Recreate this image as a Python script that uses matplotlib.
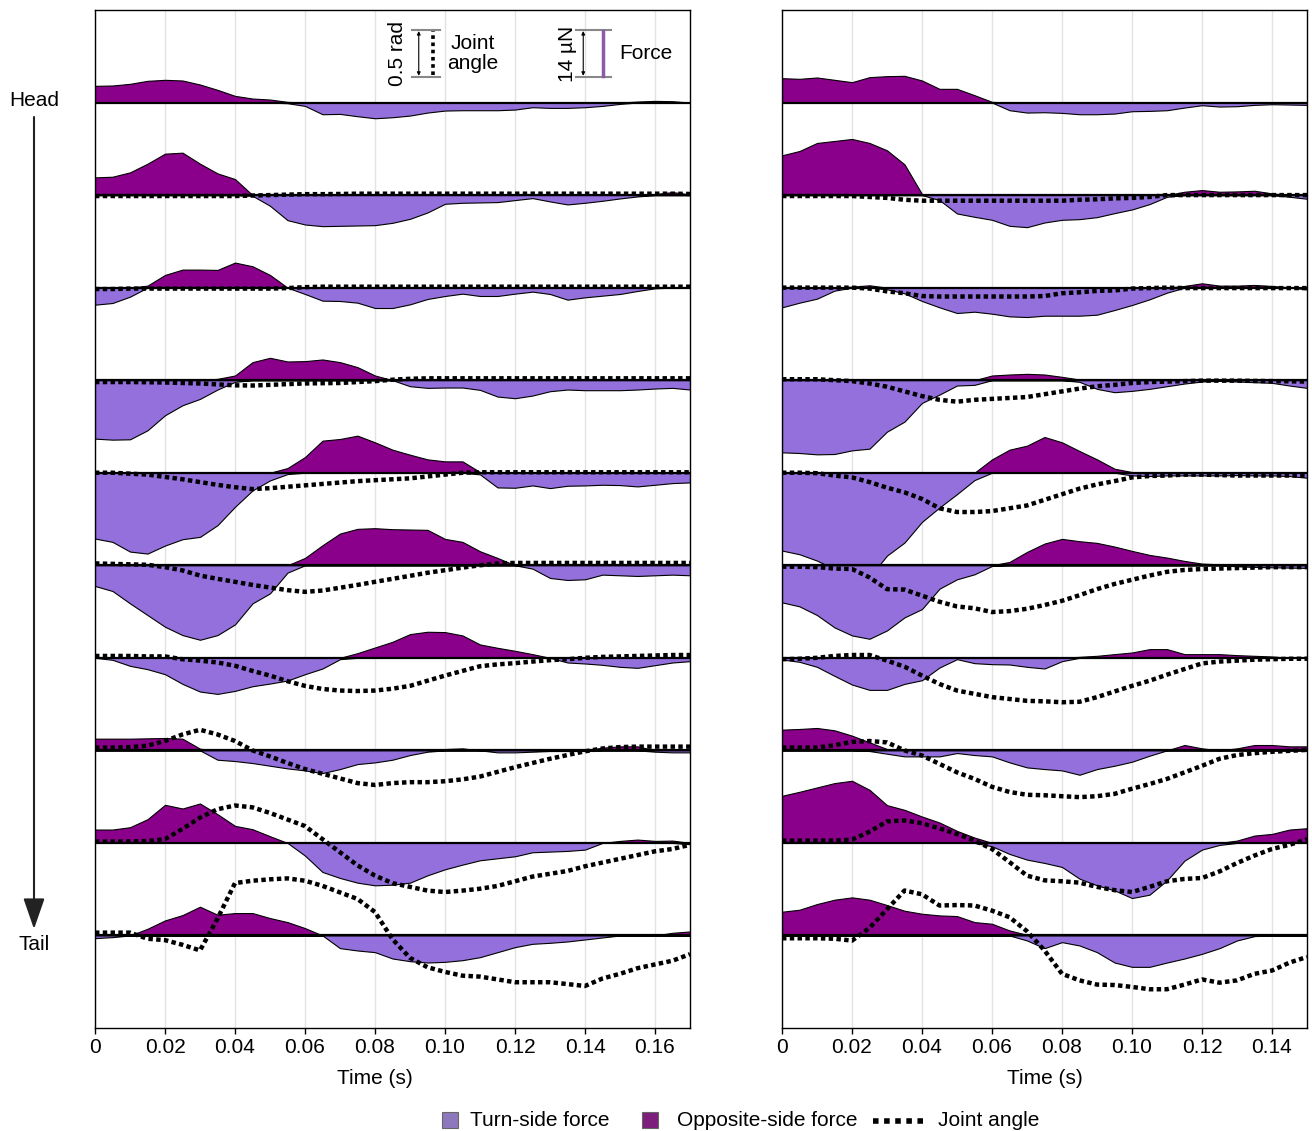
import numpy as np
import matplotlib.pyplot as plt
from matplotlib.patches import Rectangle, FancyArrowPatch
from matplotlib.lines import Line2D

plt.rcParams['font.family'] = ['Liberation Sans', 'DejaVu Sans']

# samples every 5 ms
left_time = np.arange(35) * 0.005
right_time = np.arange(31) * 0.005

left_ticks = [0, 0.02, 0.04, 0.06, 0.08, 0.10, 0.12, 0.14, 0.16]
left_ticklabels = ['0', '0.02', '0.04', '0.06', '0.08', '0.10', '0.12', '0.14', '0.16']
right_ticks = [0, 0.02, 0.04, 0.06, 0.08, 0.10, 0.12, 0.14]
right_ticklabels = ['0', '0.02', '0.04', '0.06', '0.08', '0.10', '0.12', '0.14']

# forces in uN (opposite side drawn up, turn side drawn down), joint angle in rad
# rows go from head (0) to tail (9)
left_opposite = [
    [5.0, 5.1, 5.6, 6.5, 6.8, 6.6, 5.4, 3.8, 2.0, 1.2, 0.9, 0.2, 0, 0, 0, 0, 0, 0, 0, 0, 0, 0, 0, 0, 0, 0, 0, 0, 0, 0, 0, 0.3, 0.5, 0.4, 0],
    [5.3, 5.5, 6.8, 9.4, 12.4, 12.7, 9.4, 6.5, 4.8, 0, 0, 0, 0, 0, 0, 0, 0, 0, 0, 0, 0, 0, 0, 0, 0, 0, 0, 0, 0, 0, 0, 0, 0.3, 0.9, 0.2],
    [0, 0, 0, 0.6, 3.8, 5.4, 5.4, 5.3, 7.5, 6.4, 3.8, 0, 0, 0, 0, 0, 0, 0, 0, 0, 0, 0, 0, 0, 0, 0, 0, 0, 0, 0, 0, 0, 0, 0, 0],
    [0, 0, 0, 0, 0, 0, 0, 0.4, 1.4, 5.4, 6.7, 5.6, 5.7, 6.2, 5.4, 3.9, 1.4, 0, 0, 0, 0, 0, 0, 0, 0, 0, 0, 0, 0, 0, 0, 0, 0, 0, 0],
    [0, 0, 0, 0, 0, 0, 0, 0, 0, 0, 0, 1.4, 4.7, 9.6, 10.1, 11.1, 9.1, 6.9, 5.4, 4.0, 3.4, 3.4, 0.2, 0, 0, 0, 0, 0, 0, 0, 0, 0, 0, 0, 0],
    [0, 0, 0, 0, 0, 0, 0, 0, 0, 0, 0, 0, 2.2, 6.0, 9.5, 10.9, 11.1, 10.8, 10.7, 10.6, 7.9, 7.0, 4.2, 2.2, 0, 0, 0, 0, 0, 0, 0, 0, 0, 0, 0],
    [0, 0, 0, 0, 0, 0, 0, 0, 0, 0, 0, 0, 0, 0, 0, 1.4, 3.1, 4.8, 7.1, 7.8, 7.7, 6.7, 4.0, 3.0, 2.1, 1.1, 0, 0, 0, 0, 0, 0, 0, 0, 0],
    [3.5, 3.5, 3.5, 3.6, 3.7, 3.5, 0.5, 0, 0, 0, 0, 0, 0, 0, 0, 0, 0, 0, 0, 0, 0.4, 0.6, 0, 0, 0, 0, 0, 0, 0, 0.8, 1.2, 1.2, 0, 0, 0],
    [4.0, 4.0, 4.7, 7.1, 11.4, 10.3, 11.8, 8.6, 5.1, 4.1, 2.0, 0, 0, 0, 0, 0, 0, 0, 0, 0, 0, 0, 0, 0, 0, 0, 0, 0, 0, 0, 0.6, 1.0, 0.6, 0.7, 0],
    [0, 0, 0, 2.0, 4.5, 6.1, 8.6, 6.2, 6.7, 6.7, 5.2, 4.0, 2.2, 0, 0, 0, 0, 0, 0, 0, 0, 0, 0, 0, 0, 0, 0, 0, 0, 0, 0, 0, 0, 0.8, 1.2],
]
left_turn = [
    [0, 0, 0, 0, 0, 0, 0, 0, 0, 0, 0, 0.2, 1.0, 3.5, 3.4, 4.1, 4.7, 4.4, 3.9, 3.0, 2.4, 2.3, 2.3, 2.3, 2.1, 1.4, 1.6, 1.6, 1.4, 1.0, 0.4, 0, 0, 0, 0],
    [0, 0, 0, 0, 0, 0, 0, 0, 0, 0.2, 3.2, 7.5, 8.8, 9.3, 9.2, 9.1, 9.0, 8.3, 7.1, 5.2, 2.6, 2.3, 2.2, 2.1, 1.5, 0.9, 1.9, 2.8, 2.3, 1.7, 1.0, 0.4, 0, 0, 0],
    [5.1, 4.6, 2.7, 0, 0, 0, 0, 0, 0, 0, 0, 0, 1.9, 3.9, 4.0, 4.5, 6.1, 6.1, 5.0, 3.4, 2.5, 1.8, 2.5, 2.5, 1.8, 1.2, 1.9, 3.6, 2.9, 2.4, 1.9, 1.0, 0.2, 0, 0],
    [17.5, 17.8, 17.7, 15.0, 10.5, 7.5, 5.6, 2.8, 0.5, 0, 0, 0, 0, 0, 0, 0, 0, 0, 1.8, 2.3, 2.2, 2.2, 2.9, 4.9, 5.4, 4.6, 3.3, 2.8, 3.0, 3.0, 3.0, 2.8, 2.5, 2.3, 2.8],
    [19.7, 20.7, 23.6, 24.2, 21.8, 19.9, 19.2, 15.7, 10.2, 5.3, 2.3, 0.4, 0, 0, 0, 0, 0, 0, 0, 0, 0, 0, 0.5, 4.4, 4.5, 3.8, 4.6, 3.9, 3.8, 3.6, 3.7, 4.1, 3.6, 3.1, 2.9],
    [6.2, 7.7, 11.4, 14.9, 18.4, 20.9, 22.3, 20.9, 17.7, 11.4, 8.4, 2.2, 0, 0, 0, 0, 0, 0, 0, 0, 0, 0, 0, 0, 0, 1.0, 3.8, 4.4, 4.2, 2.8, 3.0, 3.2, 3.0, 2.8, 3.0],
    [0, 0.6, 2.4, 3.4, 4.9, 7.8, 10.1, 10.8, 9.9, 8.5, 7.7, 6.8, 4.9, 3.2, 0.4, 0, 0, 0, 0, 0, 0, 0, 0, 0, 0, 0, 0, 1.4, 1.7, 2.1, 2.7, 3.0, 2.2, 1.4, 1.0],
    [0, 0, 0, 0, 0, 0, 0, 2.8, 3.2, 3.8, 4.6, 5.4, 6.0, 6.8, 5.6, 4.1, 3.6, 2.8, 1.4, 0.4, 0, 0, 0, 0.6, 0.6, 0.4, 0.2, 0.2, 0.2, 0, 0, 0, 0.4, 0.6, 0.6],
    [0, 0, 0, 0, 0, 0, 0, 0, 0, 0, 0, 0, 3.8, 8.7, 10.5, 11.9, 12.7, 12.5, 11.9, 9.7, 7.9, 6.5, 5.2, 4.6, 4.0, 2.8, 2.6, 2.4, 2.0, 0, 0, 0, 0, 0, 0.4],
    [0.8, 0.5, 0, 0, 0, 0, 0, 0, 0, 0, 0, 0, 0, 0, 3.8, 4.5, 5.0, 6.9, 7.7, 8.1, 7.9, 7.4, 6.5, 5.0, 3.5, 2.5, 2.2, 1.8, 1.2, 0.6, 0, 0, 0, 0, 0],
]
left_angle = [
    None,
    [-0.01, -0.01, -0.01, -0.01, -0.01, -0.01, -0.01, -0.01, -0.01, -0.005, 0.0, 0.005, 0.01, 0.01, 0.012, 0.015, 0.015, 0.015, 0.015, 0.015, 0.015, 0.015, 0.015, 0.015, 0.015, 0.015, 0.015, 0.015, 0.015, 0.015, 0.015, 0.015, 0.015, 0.015, 0.012],
    [-0.015, -0.015, -0.01, -0.01, -0.01, -0.01, -0.01, -0.01, -0.01, -0.01, -0.01, -0.005, 0.005, 0.01, 0.01, 0.01, 0.01, 0.01, 0.01, 0.01, 0.01, 0.01, 0.01, 0.01, 0.01, 0.01, 0.01, 0.01, 0.01, 0.01, 0.01, 0.01, 0.01, 0.01, 0.01],
    [-0.02, -0.02, -0.02, -0.022, -0.025, -0.03, -0.035, -0.045, -0.055, -0.057, -0.05, -0.042, -0.035, -0.032, -0.03, -0.02, -0.01, 0.005, 0.015, 0.02, 0.02, 0.02, 0.02, 0.02, 0.02, 0.02, 0.02, 0.02, 0.02, 0.02, 0.02, 0.02, 0.02, 0.02, 0.02],
    [0.0, 0.0, -0.01, -0.02, -0.045, -0.07, -0.1, -0.13, -0.155, -0.175, -0.165, -0.15, -0.135, -0.12, -0.105, -0.09, -0.08, -0.07, -0.06, -0.04, -0.02, 0.0, 0.005, 0.005, 0.005, 0.005, 0.005, 0.005, 0.005, 0.005, 0.005, 0.005, 0.005, 0.005, 0.005],
    [0.02, 0.015, 0.01, 0.005, -0.02, -0.055, -0.11, -0.145, -0.177, -0.21, -0.238, -0.266, -0.284, -0.27, -0.24, -0.21, -0.177, -0.145, -0.113, -0.08, -0.053, -0.025, 0.0, 0.02, 0.025, 0.025, 0.025, 0.025, 0.025, 0.025, 0.025, 0.025, 0.025, 0.025, 0.025],
    [0.02, 0.02, 0.02, 0.015, 0.015, -0.015, -0.03, -0.05, -0.085, -0.14, -0.19, -0.25, -0.3, -0.333, -0.35, -0.355, -0.35, -0.33, -0.3, -0.245, -0.19, -0.14, -0.09, -0.07, -0.057, -0.04, -0.025, -0.015, 0.0, 0.01, 0.015, 0.02, 0.025, 0.03, 0.03],
    [0.03, 0.03, 0.035, 0.05, 0.1, 0.17, 0.22, 0.17, 0.1, 0.0, -0.065, -0.135, -0.2, -0.25, -0.3, -0.35, -0.37, -0.35, -0.34, -0.34, -0.33, -0.31, -0.28, -0.23, -0.18, -0.135, -0.09, -0.05, -0.01, 0.02, 0.035, 0.04, 0.04, 0.04, 0.04],
    [0.015, 0.015, 0.015, 0.02, 0.04, 0.15, 0.27, 0.36, 0.4, 0.38, 0.32, 0.25, 0.18, 0.04, -0.1, -0.24, -0.35, -0.43, -0.47, -0.51, -0.525, -0.51, -0.49, -0.46, -0.41, -0.36, -0.33, -0.3, -0.25, -0.21, -0.17, -0.13, -0.09, -0.065, -0.02],
    [0.03, 0.03, 0.03, -0.035, -0.05, -0.1, -0.16, 0.18, 0.56, 0.585, 0.6, 0.61, 0.585, 0.53, 0.46, 0.39, 0.25, -0.04, -0.24, -0.34, -0.39, -0.43, -0.44, -0.47, -0.5, -0.5, -0.5, -0.52, -0.54, -0.46, -0.41, -0.35, -0.31, -0.27, -0.2],
]

right_opposite = [
    [7.3, 7.1, 7.5, 6.8, 6.1, 7.6, 7.9, 8.0, 6.6, 4.1, 4.1, 2.2, 0.2, 0, 0, 0, 0, 0, 0, 0, 0, 0, 0, 0, 0, 0, 0, 0, 0, 0, 0],
    [11.9, 13.2, 15.6, 16.2, 16.8, 15.6, 13.4, 9.2, 0.3, 0, 0, 0, 0, 0, 0, 0, 0, 0, 0, 0, 0, 0, 0, 1.0, 1.5, 1.0, 1.1, 1.3, 0.5, 0, 0],
    [0, 0, 0, 0, 0.3, 0.7, 0, 0, 0, 0, 0, 0, 0, 0, 0, 0, 0, 0, 0, 0, 0, 0, 0, 0.5, 1.3, 0.6, 0.6, 0.8, 0.5, 0.1, 0],
    [0, 0, 0, 0, 0, 0, 0, 0, 0, 0, 0, 0, 1.4, 1.7, 1.9, 1.7, 1.0, 0.2, 0, 0, 0, 0, 0, 0, 0, 0, 0, 0, 0, 0, 0],
    [0, 0, 0, 0, 0, 0, 0, 0, 0, 0, 0, 0, 4.0, 6.9, 8.1, 10.7, 9.1, 6.5, 4.0, 1.2, 0.2, 0, 0, 0, 0, 0, 0, 0, 0, 0, 0],
    [0, 0, 0, 0, 0, 0, 0, 0, 0, 0, 0, 0, 0, 1.0, 4.0, 6.5, 7.9, 7.2, 6.7, 5.6, 4.3, 3.1, 2.3, 1.3, 0.5, 0.3, 0, 0, 0, 0, 0],
    [0, 0, 0, 0, 0, 0, 0, 0, 0, 0, 0, 0, 0, 0, 0, 0, 0, 0.3, 0.6, 1.1, 1.6, 2.6, 2.6, 1.1, 1.1, 1.1, 0.8, 0.6, 0.4, 0, 0],
    [6.2, 6.4, 6.7, 6.0, 4.4, 2.4, 0.4, 0, 0, 0, 0, 0, 0, 0, 0, 0, 0, 0, 0, 0, 0, 0, 0, 1.6, 0.6, 0, 0.6, 1.6, 1.6, 1.2, 1.2],
    [14.1, 15.3, 16.6, 17.9, 18.6, 15.9, 11.3, 9.9, 7.9, 6.1, 3.6, 1.6, 0, 0, 0, 0, 0, 0, 0, 0, 0, 0, 0, 0, 0, 0, 0.7, 2.2, 2.7, 4.0, 4.4],
    [7.1, 7.7, 9.4, 10.7, 11.4, 10.7, 9.1, 7.4, 6.5, 6.0, 5.8, 4.0, 3.5, 1.5, 0.2, 0, 0, 0, 0, 0, 0, 0, 0, 0, 0, 0, 0, 0.4, 0.4, 0.4, 0.4],
]
right_turn = [
    [0, 0, 0, 0, 0, 0, 0, 0, 0, 0, 0, 0, 0, 2.3, 3.0, 2.9, 3.1, 3.5, 3.5, 3.3, 2.6, 2.5, 2.3, 1.5, 0.8, 1.2, 1.1, 0.7, 0.5, 0.6, 0.7],
    [0, 0, 0, 0, 0, 0, 0, 0, 0, 1.5, 5.5, 6.5, 7.4, 9.2, 9.6, 8.2, 7.4, 7.2, 6.6, 5.4, 4.3, 2.7, 0.5, 0, 0, 0, 0, 0, 0, 0.5, 1.1],
    [5.9, 4.5, 3.3, 0.9, 0, 0, 0.5, 1.7, 4.0, 5.9, 7.6, 7.2, 7.8, 8.6, 8.8, 8.4, 8.4, 8.4, 8.1, 6.7, 5.2, 3.5, 1.5, 0, 0, 0, 0, 0, 0, 0, 0.5],
    [21.6, 21.8, 22.2, 22.1, 21.0, 20.5, 15.4, 12.4, 6.8, 4.3, 1.6, 1.4, 0, 0, 0, 0, 0, 0.5, 2.6, 3.6, 3.2, 2.6, 1.8, 1.0, 0.4, 0.2, 0.4, 0.6, 0.8, 1.6, 2.3],
    [23.3, 24.4, 26.3, 28.8, 30.3, 31.3, 24.8, 20.9, 14.7, 10.4, 6.4, 2.2, 0, 0, 0, 0, 0, 0, 0, 0, 0.8, 1.0, 0.8, 0.8, 0.8, 0.8, 0.7, 0.8, 0.8, 1.0, 1.5],
    [11.1, 12.3, 14.9, 18.6, 21.0, 22.0, 19.5, 15.6, 13.1, 7.0, 4.2, 2.7, 0.2, 0, 0, 0, 0, 0, 0, 0, 0, 0, 0, 0, 0, 0, 0.3, 0.5, 0.6, 0.7, 0.8],
    [0.5, 1.2, 2.7, 5.4, 8.0, 9.6, 9.6, 7.8, 6.7, 2.9, 0.4, 1.6, 1.9, 2.0, 2.7, 3.2, 1.0, 0, 0, 0, 0, 0, 0, 0, 0, 0, 0, 0, 0, 0, 0],
    [0, 0, 0, 0, 0, 0.2, 1.0, 1.8, 1.8, 1.8, 0.8, 1.4, 1.8, 3.6, 5.1, 5.6, 6.0, 7.3, 5.6, 4.6, 3.4, 1.6, 0, 0, 0, 0, 0, 0, 0, 0, 0],
    [0, 0, 0, 0, 0, 0, 0, 0, 0, 0, 0, 0, 1.0, 3.3, 5.0, 6.0, 7.2, 10.7, 12.7, 14.2, 16.5, 15.5, 11.2, 5.3, 2.0, 0.6, 0, 0, 0, 0, 0],
    [0, 0, 0, 0, 0, 0, 0, 0, 0, 0, 0, 0, 0, 0, 1.5, 3.8, 2.0, 3.0, 5.0, 8.1, 9.4, 9.4, 8.1, 6.9, 5.5, 3.8, 1.5, 0.2, 0, 0, 0],
]
right_angle = [
    None,
    [-0.01, -0.01, -0.01, -0.01, -0.01, -0.02, -0.03, -0.05, -0.06, -0.06, -0.06, -0.06, -0.06, -0.06, -0.06, -0.06, -0.06, -0.05, -0.045, -0.035, -0.03, -0.02, 0.0, 0.0, 0.0, 0.0, 0.0, 0.0, 0.0, 0.0, 0.0],
    [0.0, 0.0, 0.0, 0.0, 0.0, -0.01, -0.04, -0.06, -0.09, -0.095, -0.095, -0.095, -0.095, -0.095, -0.095, -0.09, -0.06, -0.05, -0.035, -0.03, -0.01, -0.005, 0.0, -0.005, -0.005, -0.005, -0.005, -0.005, -0.005, -0.005, -0.005],
    [0.01, 0.01, 0.01, 0.0, -0.01, -0.035, -0.07, -0.12, -0.17, -0.21, -0.23, -0.21, -0.2, -0.19, -0.18, -0.15, -0.12, -0.09, -0.065, -0.05, -0.03, -0.02, -0.015, -0.01, -0.005, -0.005, -0.005, -0.008, -0.01, -0.012, -0.015],
    [0.0, 0.0, -0.005, -0.03, -0.05, -0.1, -0.16, -0.21, -0.28, -0.38, -0.42, -0.42, -0.41, -0.38, -0.35, -0.29, -0.23, -0.17, -0.125, -0.09, -0.05, -0.035, -0.03, -0.02, -0.02, -0.025, -0.03, -0.03, -0.03, -0.03, -0.03],
    [-0.015, -0.015, -0.02, -0.035, -0.04, -0.13, -0.255, -0.26, -0.325, -0.39, -0.44, -0.46, -0.5, -0.49, -0.465, -0.425, -0.38, -0.32, -0.255, -0.2, -0.155, -0.11, -0.07, -0.05, -0.04, -0.035, -0.03, -0.025, -0.02, -0.02, -0.02],
    [-0.015, -0.01, 0.0, 0.02, 0.03, 0.03, -0.03, -0.095, -0.19, -0.28, -0.35, -0.385, -0.42, -0.44, -0.46, -0.465, -0.475, -0.47, -0.42, -0.36, -0.3, -0.245, -0.18, -0.12, -0.06, -0.04, -0.03, -0.02, -0.015, -0.01, -0.01],
    [0.03, 0.03, 0.03, 0.055, 0.09, 0.1, 0.085, 0.0, -0.055, -0.145, -0.235, -0.305, -0.39, -0.445, -0.475, -0.48, -0.49, -0.5, -0.49, -0.465, -0.41, -0.36, -0.305, -0.235, -0.165, -0.09, -0.05, -0.03, -0.015, -0.005, 0.005],
    [0.025, 0.025, 0.025, 0.025, 0.035, 0.12, 0.23, 0.24, 0.21, 0.155, 0.095, 0.025, -0.065, -0.205, -0.35, -0.4, -0.41, -0.425, -0.47, -0.505, -0.525, -0.47, -0.41, -0.385, -0.375, -0.305, -0.215, -0.135, -0.065, -0.02, 0.04],
    [-0.03, -0.03, -0.03, -0.035, -0.055, 0.08, 0.28, 0.48, 0.44, 0.32, 0.325, 0.32, 0.265, 0.195, 0.045, -0.16, -0.41, -0.48, -0.525, -0.53, -0.55, -0.575, -0.575, -0.525, -0.47, -0.505, -0.48, -0.41, -0.375, -0.29, -0.23],
]

TURN_COLOR = '#9370db'
OPP_COLOR = '#8b008b'
ROW_GAP = 27.7        # uN between stacked traces
ANGLE_SCALE = 28.0    # 0.5 rad drawn as tall as 14 uN
DOTS = (0, (1, 0.75))
W, H = 1312, 1131


def fig_xy(px, py):
    return px / W, 1 - py / H


def draw_panel(ax, time, opposite, turn, angle, x_max, ticks, ticklabels):
    for k in range(len(opposite)):
        base = -k * ROW_GAP
        opp = np.array(opposite[k])
        tur = np.array(turn[k])
        ax.fill_between(time, base, base + opp, facecolor=OPP_COLOR,
                        edgecolor='black', linewidth=0.8, zorder=2)
        ax.fill_between(time, base, base - tur, facecolor=TURN_COLOR,
                        edgecolor='black', linewidth=0.8, zorder=2)
        ax.axhline(base, color='black', lw=1.6, zorder=3)
        if angle[k] is not None:
            ax.plot(time, base + ANGLE_SCALE * np.array(angle[k]), color='black',
                    lw=3.2, ls=DOTS, zorder=4)

    ax.set_xlim(0, x_max)
    ax.set_ylim(-10 * ROW_GAP, ROW_GAP)
    ax.set_yticks([])
    ax.set_xticks(ticks)
    ax.set_xticklabels(ticklabels)
    ax.grid(axis='x', color='#e2e2e2', lw=1)
    ax.set_axisbelow(True)
    ax.tick_params(axis='x', length=4, width=1, pad=3.5, labelsize=15)
    ax.set_xlabel('Time (s)', fontsize=15, labelpad=8)
    for sp in ax.spines.values():
        sp.set_linewidth(1)


fig = plt.figure(figsize=(13.12, 11.31), dpi=100)
ax_left = fig.add_axes([95 / W, 1 - 1028 / H, 595 / W, 1018 / H])
ax_right = fig.add_axes([782 / W, 1 - 1028 / H, 525 / W, 1018 / H])

draw_panel(ax_left, left_time, left_opposite, left_turn, left_angle, 0.17,
           left_ticks, left_ticklabels)
draw_panel(ax_right, right_time, right_opposite, right_turn, right_angle, 0.15,
           right_ticks, right_ticklabels)
# the left label sits under 0.08 rather than the middle of the panel
ax_left.xaxis.label.set_x(0.4706)

# scale bars (in data units of the left panel)
bar_lo, bar_hi = 7.7, 21.7
bar_mid = (bar_lo + bar_hi) / 2
for x0, x1 in [(0.0906, 0.0986), (0.1374, 0.1474)]:
    ax_left.plot([x0, x1], [bar_hi, bar_hi], color='#888888', lw=1.5, zorder=5)
    ax_left.plot([x0, x1], [bar_lo, bar_lo], color='#888888', lw=1.5, zorder=5)
for xa in [0.0925, 0.1395]:
    ax_left.annotate('', xy=(xa, bar_hi - 0.3), xytext=(xa, bar_lo + 0.3),
                     arrowprops=dict(arrowstyle='<|-|>', lw=0.8, color='black',
                                     mutation_scale=5, shrinkA=0, shrinkB=0),
                     zorder=5)
ax_left.plot([0.0966, 0.0966], [bar_lo + 0.4, bar_hi - 0.4], color='black', lw=2.6,
             ls=(0, (1, 1)), zorder=5)
ax_left.plot([0.1451, 0.1451], [bar_lo + 0.3, bar_hi - 0.3], color='#8b5aa8', lw=2.5,
             zorder=5)
ax_left.text(0.0864, bar_mid, '0.5 rad', rotation=90, ha='center', va='center', fontsize=15)
ax_left.text(0.1080, bar_mid, 'Joint\nangle', ha='center', va='center', fontsize=15,
             linespacing=1.05)
ax_left.text(0.1350, bar_mid, '14 µN', rotation=90, ha='center', va='center', fontsize=15)
ax_left.text(0.1575, bar_mid, 'Force', ha='center', va='center', fontsize=15)

# head -> tail arrow
fig.text(*fig_xy(34, 100), 'Head', ha='center', va='center', fontsize=15)
fig.text(*fig_xy(34, 945), 'Tail', ha='center', va='center', fontsize=15)
fig.add_artist(FancyArrowPatch(
    fig_xy(34, 117), fig_xy(34, 929), transform=fig.transFigure,
    arrowstyle='-|>,head_length=0.95,head_width=0.33', mutation_scale=20,
    color='#222222', lw=1.5, shrinkA=0, shrinkB=0))

# legend drawn by hand so the dotted sample can be wider than the squares
x0, y0 = fig_xy(442, 1128)
fig.add_artist(Rectangle((x0, y0), 16 / W, 16 / H, transform=fig.transFigure,
                         facecolor='#8e78bd', edgecolor='#666666', lw=0.8))
fig.text(*fig_xy(470, 1120), 'Turn-side force', ha='left', va='center', fontsize=15)
x0, y0 = fig_xy(642, 1128)
fig.add_artist(Rectangle((x0, y0), 16 / W, 16 / H, transform=fig.transFigure,
                         facecolor='#7d1e7d', edgecolor='#666666', lw=0.8))
fig.text(*fig_xy(677, 1120), 'Opposite-side force', ha='left', va='center', fontsize=15)
xa, ya = fig_xy(873, 1121)
xb, _ = fig_xy(926, 1121)
fig.add_artist(Line2D([xa, xb], [ya, ya], transform=fig.transFigure, color='black',
                      lw=4, ls=(0, (1, 1))))
fig.text(*fig_xy(938, 1120), 'Joint angle', ha='left', va='center', fontsize=15)

fig.savefig('out.png', dpi=100)
